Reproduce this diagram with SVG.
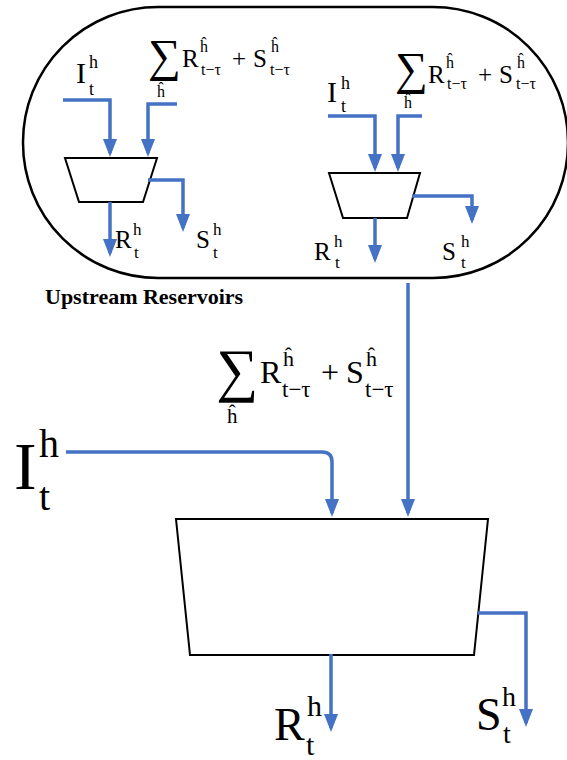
<svg xmlns="http://www.w3.org/2000/svg" width="567" height="760" viewBox="0 0 567 760">
<defs>
<marker id="ah" markerUnits="userSpaceOnUse" markerWidth="18" markerHeight="14" refX="14" refY="7" orient="auto">
<path d="M0,0 L18,7 L0,14 z" fill="#4472C4"/>
</marker>
<style>
text{font-family:'Liberation Serif','Times New Roman',serif;fill:#000}
.c{fill:none;stroke:#4472C4;stroke-width:3.5;marker-end:url(#ah)}
.shape{fill:#fff;stroke:#000;stroke-width:2}
</style>
</defs>
<rect width="567" height="760" fill="#fff"/>

<g id="upstream">
<rect x="23" y="7" width="545" height="271" rx="135" ry="135" fill="none" stroke="#000" stroke-width="2.5"/>
<text x="45" y="304" font-size="22" font-weight="bold">Upstream Reservoirs</text>
</g>

<g id="res1">
<polygon class="shape" points="65,158 157,158 143,202 79,202"/>
<text x="76" y="83" font-size="30">I</text>
<text x="89" y="68" font-size="18">h</text>
<text x="89" y="95" font-size="18">t</text>
<text x="148" y="71" font-size="46">∑</text>
<text x="157" y="97" font-size="16">ĥ</text>
<text x="182" y="67" font-size="25">R</text>
<text x="200" y="52" font-size="16">ĥ</text>
<text x="201" y="75" font-size="16">t−τ</text>
<text x="232" y="67" font-size="25">+</text>
<text x="253" y="67" font-size="25">S</text>
<text x="271" y="52" font-size="16">ĥ</text>
<text x="270" y="75" font-size="16">t−τ</text>
<text x="115" y="248" font-size="25">R</text>
<text x="133" y="235" font-size="17">h</text>
<text x="134" y="258" font-size="17">t</text>
<text x="196" y="248" font-size="25">S</text>
<text x="213" y="235" font-size="17">h</text>
<text x="213" y="258" font-size="17">t</text>
</g>

<g id="res2">
<polygon class="shape" points="329,173 420,173 407,218 343,218"/>
<text x="327" y="102" font-size="30">I</text>
<text x="341" y="89" font-size="18">h</text>
<text x="341" y="112" font-size="18">t</text>
<text x="395" y="84" font-size="46">∑</text>
<text x="404" y="108" font-size="16">ĥ</text>
<text x="428" y="83" font-size="25">R</text>
<text x="446" y="68" font-size="16">ĥ</text>
<text x="447" y="89" font-size="16">t−τ</text>
<text x="478" y="83" font-size="25">+</text>
<text x="499" y="83" font-size="25">S</text>
<text x="517" y="68" font-size="16">ĥ</text>
<text x="516" y="89" font-size="16">t−τ</text>
<text x="314" y="260" font-size="25">R</text>
<text x="334" y="247" font-size="17">h</text>
<text x="335" y="268" font-size="17">t</text>
<text x="442" y="260" font-size="25">S</text>
<text x="461" y="247" font-size="17">h</text>
<text x="461" y="268" font-size="17">t</text>
</g>

<g id="main">
<polygon class="shape" points="176,519 488,519 474,655 190,655"/>
<text x="14" y="489" font-size="68">I</text>
<text x="39" y="457" font-size="40">h</text>
<text x="39" y="510" font-size="40">t</text>
<text x="216" y="390" font-size="59">∑</text>
<text x="227" y="423" font-size="21">ĥ</text>
<text x="260" y="383" font-size="32">R</text>
<text x="283" y="366" font-size="22">ĥ</text>
<text x="282" y="397" font-size="23">t−τ</text>
<text x="321" y="383" font-size="32">+</text>
<text x="346" y="383" font-size="32">S</text>
<text x="366" y="366" font-size="22">ĥ</text>
<text x="365" y="397" font-size="23">t−τ</text>
<text x="274" y="740" font-size="46">R</text>
<text x="307" y="716" font-size="30">h</text>
<text x="306" y="755" font-size="30">t</text>
<text x="476" y="730" font-size="46">S</text>
<text x="502" y="706" font-size="28">h</text>
<text x="503" y="743" font-size="28">t</text>
</g>

<g id="connectors">
<path class="c" d="M63,100 H110 V153"/>
<path class="c" d="M177,104 H148 V153"/>
<path class="c" d="M148,180 H183 V228"/>
<path class="c" d="M110,202 V253"/>
<path class="c" d="M328,116 H375 V168"/>
<path class="c" d="M422,116 H398 V168"/>
<path class="c" d="M412,196 H472 V220"/>
<path class="c" d="M375,218 V259"/>
<path class="c" d="M408,283 V513"/>
<path class="c" d="M66,452 H322 Q332,452 332,462 V513"/>
<path class="c" d="M478,613 H526 V723"/>
<path class="c" d="M331,654 V728"/>
</g>
</svg>
